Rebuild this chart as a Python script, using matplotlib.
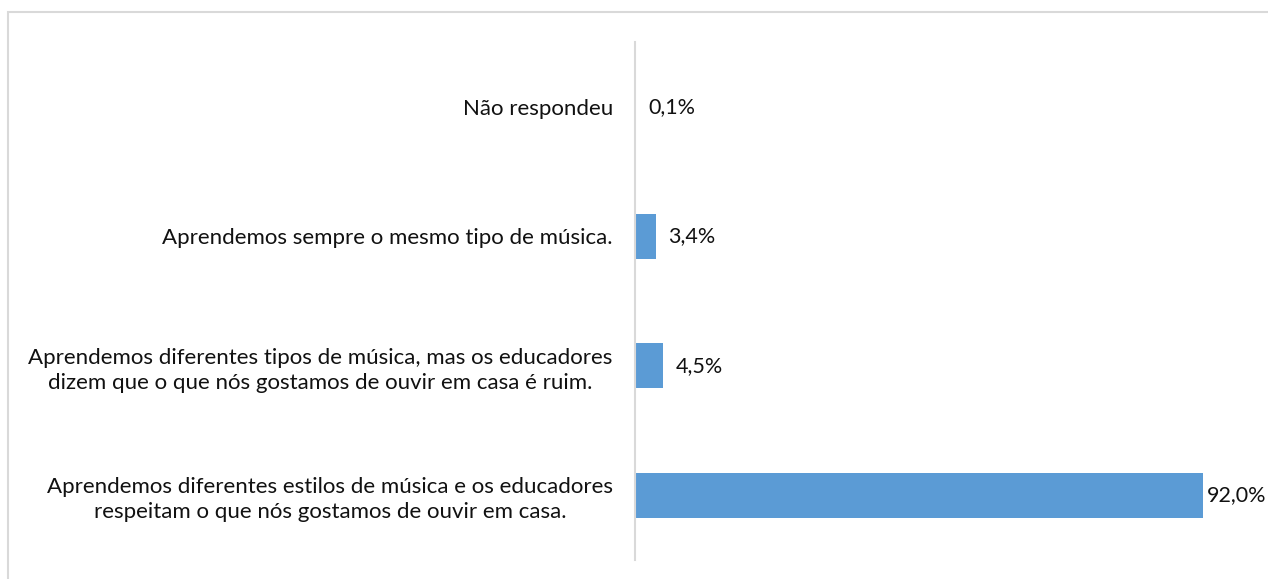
import matplotlib.pyplot as plt
from matplotlib.patches import Rectangle

categories = [
    "Aprendemos diferentes estilos de música e os educadores\nrespeitam o que nós gostamos de ouvir em casa.",
    "Aprendemos diferentes tipos de música, mas os educadores\ndizem que o que nós gostamos de ouvir em casa é ruim.",
    "Aprendemos sempre o mesmo tipo de música.",
    "Não respondeu",
]
values = [92.0, 4.5, 3.4, 0.1]
value_labels = ["92,0%", "4,5%", "3,4%", "0,1%"]

plt.rcParams['font.family'] = ['Lato', 'DejaVu Sans']

W, H = 1268, 579
fig = plt.figure(figsize=(W / 100, H / 100), dpi=100)

# light gray frame like the excel chart area
fig.patches.append(Rectangle((8 / W, -0.1), 1.2, 1 - 12 / H + 0.1,
                             transform=fig.transFigure, fill=False,
                             edgecolor='#d9d9d9', linewidth=1.5))

ax = fig.add_axes([635 / W, 1 - 560 / H, 1 - 635 / W, 518 / H])
pos = list(range(len(values)))
ax.barh(pos, values, height=0.35, color='#5b9bd5')
ax.set_ylim(-0.5, len(values) - 0.5)
ax.set_xlim(0, 92 / 568 * (W - 635))

xmax = ax.get_xlim()[1]
for p, v, lab in zip(pos, values, value_labels):
    # keep the long bar's label inside the figure
    off = 3 if v > 0.8 * xmax else 9
    ax.annotate(lab, xy=(v, p), xytext=(off, 0), textcoords='offset points',
                ha='left', va='center', fontsize=15.5, color='#111111')

ax.set_yticks(pos)
ax.set_yticklabels(categories, fontsize=16, color='#111111',
                   multialignment='center', linespacing=1.3)
ax.tick_params(axis='y', length=0, pad=16)
ax.set_xticks([])
for s in ['top', 'right', 'bottom']:
    ax.spines[s].set_visible(False)
ax.spines['left'].set_color('#d9d9d9')
ax.spines['left'].set_linewidth(1.5)
ax.patch.set_alpha(0)

fig.savefig('out.png', dpi=100)
